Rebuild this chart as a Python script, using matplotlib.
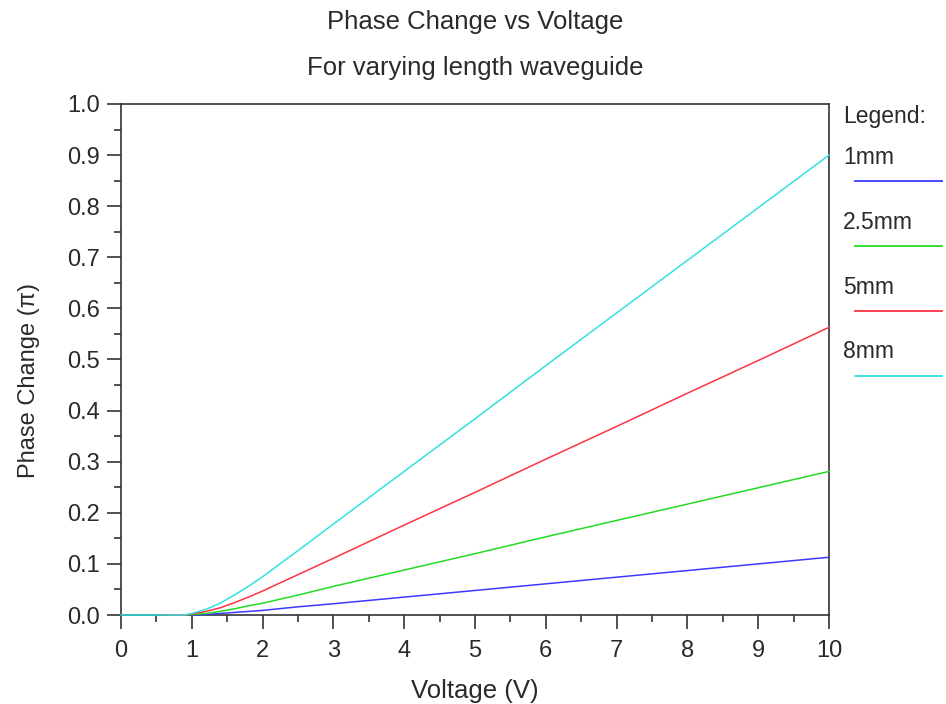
import matplotlib
matplotlib.use("Agg")
import matplotlib.pyplot as plt
from matplotlib.lines import Line2D
from matplotlib.ticker import MultipleLocator, FormatStrFormatter

plt.rcParams['font.family'] = ['Liberation Sans', 'DejaVu Sans']

v_8mm = [0.0, 0.5, 0.9, 1.0, 1.2, 1.4, 1.6, 1.8, 2.0, 2.5, 3.0, 4.0, 5.0, 6.0, 7.0, 8.0, 9.0, 10.0]
p_8mm = [0.0, 0.0, 0.0, 0.003, 0.011, 0.023, 0.039, 0.056, 0.075, 0.126, 0.178, 0.281, 0.384, 0.488, 0.591, 0.694, 0.797, 0.900]

v_5mm = [0.6, 0.9, 1.0, 1.2, 1.4, 1.6, 1.8, 2.0, 2.5, 3.0, 4.0, 5.0, 6.0, 7.0, 8.0, 9.0, 10.0]
p_5mm = [0.0, 0.0, 0.002, 0.007, 0.014, 0.024, 0.035, 0.047, 0.079, 0.111, 0.176, 0.240, 0.305, 0.369, 0.434, 0.498, 0.563]

v_2p5mm = [0.9, 1.0, 1.2, 1.4, 1.6, 1.8, 2.0, 2.5, 3.0, 4.0, 5.0, 6.0, 7.0, 8.0, 9.0, 10.0]
p_2p5mm = [0.0, 0.001, 0.003, 0.007, 0.012, 0.018, 0.023, 0.039, 0.056, 0.088, 0.120, 0.153, 0.185, 0.217, 0.249, 0.281]

v_1mm = [1.0, 1.2, 1.4, 1.6, 1.8, 2.0, 2.5, 3.0, 4.0, 5.0, 6.0, 7.0, 8.0, 9.0, 10.0]
p_1mm = [0.0, 0.001, 0.003, 0.005, 0.007, 0.009, 0.016, 0.022, 0.035, 0.048, 0.061, 0.074, 0.087, 0.100, 0.113]

labels = ["1mm", "2.5mm", "5mm", "8mm"]
colors = ["#3a3aff", "#22dd22", "#ff3344", "#33e0e0"]
series = [(v_1mm, p_1mm), (v_2p5mm, p_2p5mm), (v_5mm, p_5mm), (v_8mm, p_8mm)]

TXT = '#2a2a2a'
W, H = 946, 704
fig = plt.figure(figsize=(W / 100, H / 100), dpi=100)
ax = fig.add_axes([121 / W, (H - 615) / H, (829 - 121) / W, (615 - 104) / H])

for (x, y), c in zip(series, colors):
    ax.plot(x, y, color=c, lw=1.1, clip_on=False, zorder=3)

ax.set_xlim(0, 10)
ax.set_ylim(0, 1.0)
ax.xaxis.set_major_locator(MultipleLocator(1))
ax.xaxis.set_minor_locator(MultipleLocator(0.5))
ax.yaxis.set_major_locator(MultipleLocator(0.1))
ax.yaxis.set_minor_locator(MultipleLocator(0.05))
ax.yaxis.set_major_formatter(FormatStrFormatter('%.1f'))
ax.tick_params(which='both', direction='out', color='#333333', width=1.2,
               labelsize=17, labelcolor=TXT, top=False, right=False)
ax.tick_params(which='major', length=10, pad=5)
ax.tick_params(axis='x', which='major', pad=8)
ax.tick_params(which='minor', length=5)
for s in ax.spines.values():
    s.set_color('#333333')
    s.set_linewidth(1.2)

ax.set_xlabel("Voltage (V)", fontsize=18.5, color=TXT)
ax.xaxis.set_label_coords(0.5, (615 - 679) / 511)
ax.set_ylabel("Phase Change (\u03c0)", fontsize=17, color=TXT)
ax.yaxis.set_label_coords((40 - 121) / 708, (615 - 380) / 511)

fig.text(475 / W, 1 - 22 / H, "Phase Change vs Voltage", ha='center', va='center',
         fontsize=18.5, color=TXT)
fig.text(475 / W, 1 - 68 / H, "For varying length waveguide", ha='center', va='center',
         fontsize=18.5, color=TXT)

# legend outside on the right
fig.text(843 / W, 1 - 117 / H, "Legend:", ha='left', va='center', fontsize=16.5, color=TXT)
for i, (lab, c) in enumerate(zip(labels, colors)):
    ty = 157 + 65 * i
    ly = 181 + 65 * i
    fig.text(843 / W, 1 - ty / H, lab, ha='left', va='center', fontsize=16.5, color=TXT)
    fig.add_artist(Line2D([855 / W, 942 / W], [1 - ly / H, 1 - ly / H],
                          transform=fig.transFigure, color=c, lw=1.3))

fig.savefig("out.png", dpi=100)
